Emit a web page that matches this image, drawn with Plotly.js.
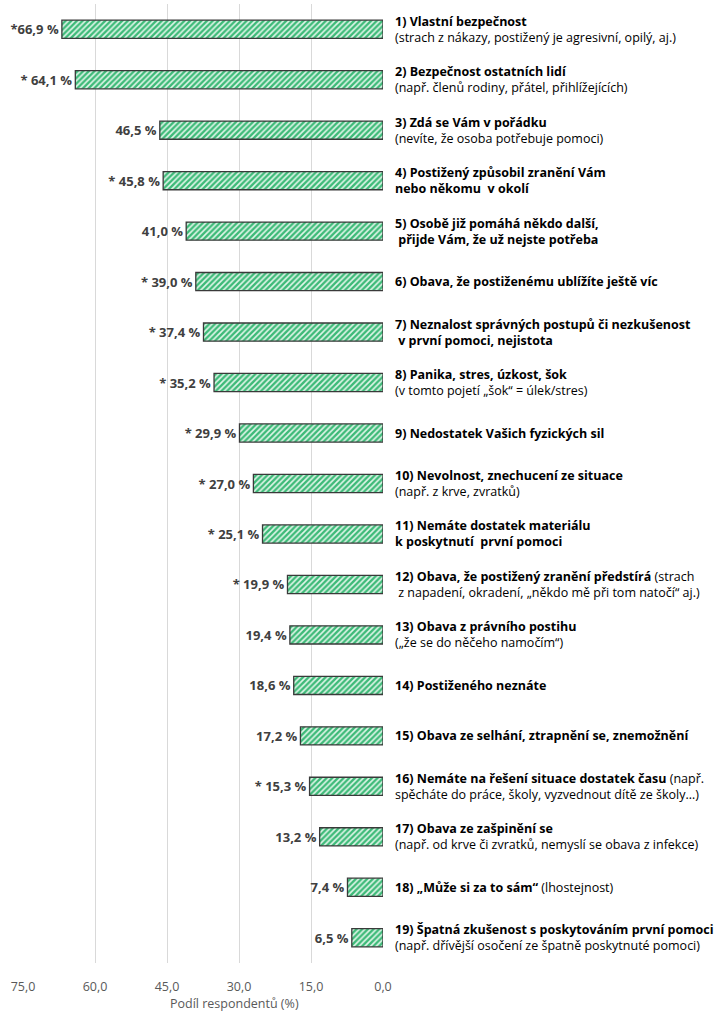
<!DOCTYPE html>
<html>
<head>
<meta charset="utf-8">
<script src="https://cdn.plot.ly/plotly-3.0.1.min.js"></script>
<style>html,body{margin:0;padding:0;background:#fff;}#chart{width:721px;height:1014px;}</style>
</head>
<body>
<div id="chart"></div>
<script>
// Data
const values = [66.9, 64.1, 46.5, 45.8, 41.0, 39.0, 37.4, 35.2, 29.9, 27.0, 25.1, 19.9, 19.4, 18.6, 17.2, 15.3, 13.2, 7.4, 6.5];
const valueLabels = ["*66,9 %", "* 64,1 %", "46,5 %", "* 45,8 %", "41,0 %", "* 39,0 %", "* 37,4 %", "* 35,2 %", "* 29,9 %", "* 27,0 %", "* 25,1 %", "* 19,9 %", "19,4 %", "18,6 %", "17,2 %", "* 15,3 %", "13,2 %", "7,4 %", "6,5 %"];
const categoryLabels = [
  "<b>1) Vlastní bezpečnost</b><br>(strach z nákazy, postižený je agresivní, opilý, aj.)",
  "<b>2) Bezpečnost ostatních lidí</b><br>(např. členů rodiny, přátel, přihlížejících)",
  "<b>3) Zdá se Vám v pořádku</b><br>(nevíte, že osoba potřebuje pomoci)",
  "<b>4) Postižený způsobil zranění Vám</b><br><b>nebo někomu  v okolí</b>",
  "<b>5) Osobě již pomáhá někdo další,</b><br><b> přijde Vám, že už nejste potřeba</b>",
  "<b>6) Obava, že postiženému ublížíte ještě víc</b>",
  "<b>7) Neznalost správných postupů či nezkušenost</b><br><b> v první pomoci, nejistota</b>",
  "<b>8) Panika, stres, úzkost, šok</b><br>(v tomto pojetí „šok“ = úlek/stres)",
  "<b>9) Nedostatek Vašich fyzických sil</b>",
  "<b>10) Nevolnost, znechucení ze situace</b><br>(např. z krve, zvratků)",
  "<b>11) Nemáte dostatek materiálu</b><br><b>k poskytnutí  první pomoci</b>",
  "<b>12) Obava, že postižený zranění předstírá</b> (strach<br> z napadení, okradení, „někdo mě při tom natočí“ aj.)",
  "<b>13) Obava z právního postihu</b><br>(„že se do něčeho namočím“)",
  "<b>14) Postiženého neznáte</b>",
  "<b>15) Obava ze selhání, ztrapnění se, znemožnění</b>",
  "<b>16) Nemáte na řešení situace dostatek času</b> (např.<br>spěcháte do práce, školy, vyzvednout dítě ze školy…)",
  "<b>17) Obava ze zašpinění se</b><br>(např. od krve či zvratků, nemyslí se obava z infekce)",
  "<b>18) „Může si za to sám“</b> (lhostejnost)",
  "<b>19) Špatná zkušenost s poskytováním první pomoci</b><br>(např. dřívější osočení ze špatně poskytnuté pomoci)"
];
const tickValues = [75, 60, 45, 30, 15, 0];
const tickLabels = ["75,0", "60,0", "45,0", "30,0", "15,0", "0,0"];
const axisTitle = "Podíl respondentů (%)";

const positions = values.map((v, i) => i + 1);
const FONT = "Open Sans, Noto Sans, sans-serif";

const trace = {
  type: "bar",
  orientation: "h",
  x: values,
  y: positions,
  width: 0.36,
  text: valueLabels,
  textposition: "outside",
  constraintext: "none",
  cliponaxis: false,
  textfont: {family: FONT, size: 13, color: "#404040", weight: "bold"},
  hoverinfo: "none",
  marker: {
    color: "#3dba78",
    line: {color: "#3a3a3a", width: 1.3},
    pattern: {shape: "/", bgcolor: "#3dba78", fgcolor: "#e2f6ea", size: 4, solidity: 0.4}
  }
};

const annotations = categoryLabels.map((t, i) => ({
  xref: "paper", yref: "y", x: 1, y: positions[i],
  xanchor: "left", yanchor: "middle", xshift: 10, align: "left",
  text: t, showarrow: false,
  font: {family: FONT, size: 12.5, color: "#000"}
}));
annotations.push({
  xref: "paper", yref: "paper", x: (234 - 23) / 360, y: 0,
  xanchor: "center", yanchor: "top", yshift: -30,
  text: axisTitle, showarrow: false,
  font: {family: FONT, size: 12.5, color: "#595959"}
});

const layout = {
  width: 721, height: 1014,
  margin: {l: 23, r: 338, t: 4, b: 51},
  paper_bgcolor: "#fff", plot_bgcolor: "#fff",
  showlegend: false,
  font: {family: FONT},
  xaxis: {
    range: [75, 0], autorange: false,
    tickvals: tickValues, ticktext: tickLabels,
    showgrid: true, gridcolor: "#d9d9d9", gridwidth: 1,
    zeroline: false, showline: false,
    ticks: "outside", ticklen: 12, tickcolor: "rgba(0,0,0,0)",
    tickfont: {family: FONT, size: 12.5, color: "#595959"}
  },
  yaxis: {
    range: [19.5, 0.5], autorange: false,
    showticklabels: false, showgrid: false, zeroline: false, showline: false
  },
  annotations: annotations
};

Plotly.newPlot("chart", [trace], layout, {displayModeBar: false, staticPlot: true});
</script>
</body>
</html>
